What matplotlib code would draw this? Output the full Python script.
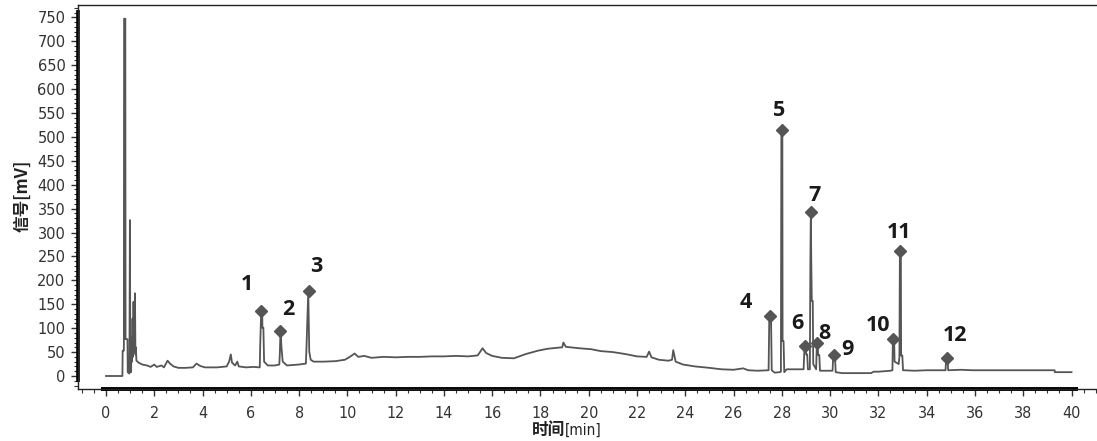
import matplotlib
matplotlib.use("Agg")
import matplotlib.pyplot as plt
from matplotlib.ticker import MultipleLocator

# chromatogram trace: time [min], signal [mV]
time_min = [0, 0.68, 0.69, 0.74, 0.75, 0.80, 0.81, 0.89, 0.90, 0.97,
            0.99, 1.01, 1.04, 1.06, 1.08, 1.10, 1.12, 1.14, 1.16, 1.18,
            1.20, 1.22, 1.24, 1.26, 1.35, 1.5, 1.7, 1.85, 2.0, 2.1,
            2.3, 2.4, 2.55, 2.65, 2.8, 3.0, 3.3, 3.6, 3.75, 3.9,
            4.1, 4.6, 5.0, 5.1, 5.17, 5.22, 5.35, 5.44, 5.5, 5.8,
            6.1, 6.37, 6.39, 6.43, 6.47, 6.48, 6.52, 6.55, 6.7, 7.0,
            7.18, 7.20, 7.23, 7.27, 7.32, 7.5, 8.0, 8.28, 8.30, 8.38,
            8.42, 8.48, 8.6, 9.0, 9.5, 9.9, 10.1, 10.3, 10.45, 10.7,
            11.0, 11.5, 12.0, 12.5, 13.0, 13.5, 14.0, 14.5, 15.0, 15.4,
            15.6, 15.75, 16.0, 16.4, 16.9, 17.4, 17.9, 18.3, 18.7, 18.9,
            18.95, 19.05, 19.6, 20.1, 20.5, 21.0, 21.5, 22.0, 22.4, 22.5,
            22.6, 22.9, 23.3, 23.45, 23.5, 23.6, 23.9, 24.4, 25.0, 25.5,
            26.0, 26.4, 26.6, 27.0, 27.45, 27.48, 27.55, 27.58, 27.7, 27.9,
            27.96, 27.98, 28.02, 28.03, 28.07, 28.1, 28.2, 28.9, 28.94, 28.99,
            29.01, 29.05, 29.08, 29.16, 29.18, 29.20, 29.22, 29.24, 29.28, 29.30,
            29.42, 29.45, 29.49, 29.50, 29.55, 29.58, 30.1, 30.13, 30.2, 30.23,
            30.5, 31.7, 31.8, 32.0, 32.5, 32.58, 32.60, 32.65, 32.67, 32.84,
            32.87, 32.89, 32.93, 32.94, 32.99, 33.02, 33.5, 34.0, 34.78, 34.81,
            34.86, 34.89, 35.4, 35.9, 36.5, 37.5, 38.5, 39.3, 39.31, 40.0]
signal_mv = [0, 0, 53, 53, 747, 747, 77, 77, 8, 5,
             326, 12, 8, 82, 30, 120, 40, 155, 50, 100,
             173, 45, 60, 32, 28, 24, 22, 19, 24, 19,
             22, 18, 32, 26, 20, 17, 17, 18, 26, 21,
             18, 18, 20, 30, 45, 28, 22, 30, 20, 18,
             19, 18, 68, 136, 136, 101, 101, 30, 22, 22,
             24, 45, 95, 60, 30, 22, 24, 26, 51, 177,
             51, 34, 30, 30, 31, 34, 40, 47, 40, 42,
             38, 40, 39, 40, 40, 41, 41, 42, 41, 43,
             58, 48, 42, 38, 37, 46, 53, 57, 59, 60,
             70, 61, 58, 56, 52, 50, 46, 41, 40, 51,
             39, 34, 32, 34, 54, 30, 24, 20, 17, 14,
             13, 16, 12, 11, 12, 125, 125, 12, 7, 8,
             9, 515, 515, 73, 73, 8, 14, 14, 63, 63,
             45, 45, 14, 14, 232, 342, 232, 157, 157, 25,
             14, 68, 68, 44, 44, 11, 11, 44, 44, 8,
             6, 6, 9, 9, 11, 12, 78, 78, 30, 25,
             40, 262, 262, 43, 43, 12, 11, 12, 12, 38,
             38, 12, 13, 12, 12, 12, 12, 12, 8, 8]

# labelled peaks
peak_names = ["1", "2", "3", "4", "5", "6", "7", "8", "9", "10", "11", "12"]
peak_time = [6.44, 7.21, 8.39, 27.51, 27.99, 28.96, 29.20, 29.47, 30.16, 32.62, 32.90, 34.84]
peak_mv = [136, 95, 177, 125, 515, 63, 342, 68, 44, 78, 262, 38]

# label offsets from the diamond, in pixels
label_offset = [(-15, 26), (8, 21), (8, 25), (-24, 14), (-2, 19), (-8, 22),
                (4, 17), (7, 10), (13, 5), (-15, 13), (-1, 18), (8, 22)]

W, H = 1097, 441
fig = plt.figure(figsize=(W / 100, H / 100), dpi=100)
ax = fig.add_axes([78 / W, (H - 389) / H, (1100 - 78) / W, (389 - 5) / H])

ax.plot(time_min, signal_mv, color="#555555", lw=1.3)
ax.plot(peak_time, peak_mv, ls="none", marker="D", ms=6, color="#555555")
for name, t, v, off in zip(peak_names, peak_time, peak_mv, label_offset):
    ax.annotate(name, (t, v), xytext=off, textcoords="offset pixels",
                ha="center", va="center", fontsize=15.5, fontweight="bold",
                family="Open Sans", color="#1a1a1a")

ax.set_xlim(-1.16, 41.18)
ax.set_ylim(-27.2, 775.7)
ax.spines["right"].set_visible(False)
for s in ["left", "top", "bottom"]:
    ax.spines[s].set_linewidth(1.0)
    ax.spines[s].set_color("#222222")

# heavy axis lines like the original software draws
ax.plot([-1.16, -1.16], [-12.5, 765], color="black", lw=2.6, clip_on=False, solid_capstyle="butt")
ax.plot([-0.22, 40.28], [-27.2, -27.2], color="black", lw=2.8, clip_on=False, solid_capstyle="butt")

ax.xaxis.set_minor_locator(MultipleLocator(0.5))
ax.yaxis.set_minor_locator(MultipleLocator(10))
ax.set_xticks(range(0, 41, 2))
ax.set_yticks(range(0, 751, 50))
ax.tick_params(axis="both", which="major", length=5, width=1, color="#333333")
ax.tick_params(axis="both", which="minor", length=3, width=0.8, color="#333333")
ax.tick_params(axis="y", pad=4, labelsize=10.5, labelcolor="#333333")
ax.tick_params(axis="x", pad=7, labelsize=11.5, labelcolor="#333333")
for lab in ax.get_xticklabels():
    lab.set_family("DejaVu Sans")
    lab.set_stretch("condensed")
for lab in ax.get_yticklabels():
    lab.set_family("DejaVu Sans")

fig.text(22 / W, 1 - 196 / H, "信号[mV]", rotation=90, ha="center", va="center",
         fontsize=12, fontweight="bold", family=["Noto Sans CJK SC", "DejaVu Sans"], color="#222222")
fig.text(565 / W, 1 - 430 / H, "时间", ha="right", va="center",
         fontsize=12, fontweight="bold", family=["Noto Sans CJK SC", "DejaVu Sans"], color="#222222")
fig.text(565 / W, 1 - 430 / H, "[min]", ha="left", va="center",
         fontsize=11, family="DejaVu Sans", stretch="condensed", color="#222222")

fig.savefig("out.png", dpi=100)
